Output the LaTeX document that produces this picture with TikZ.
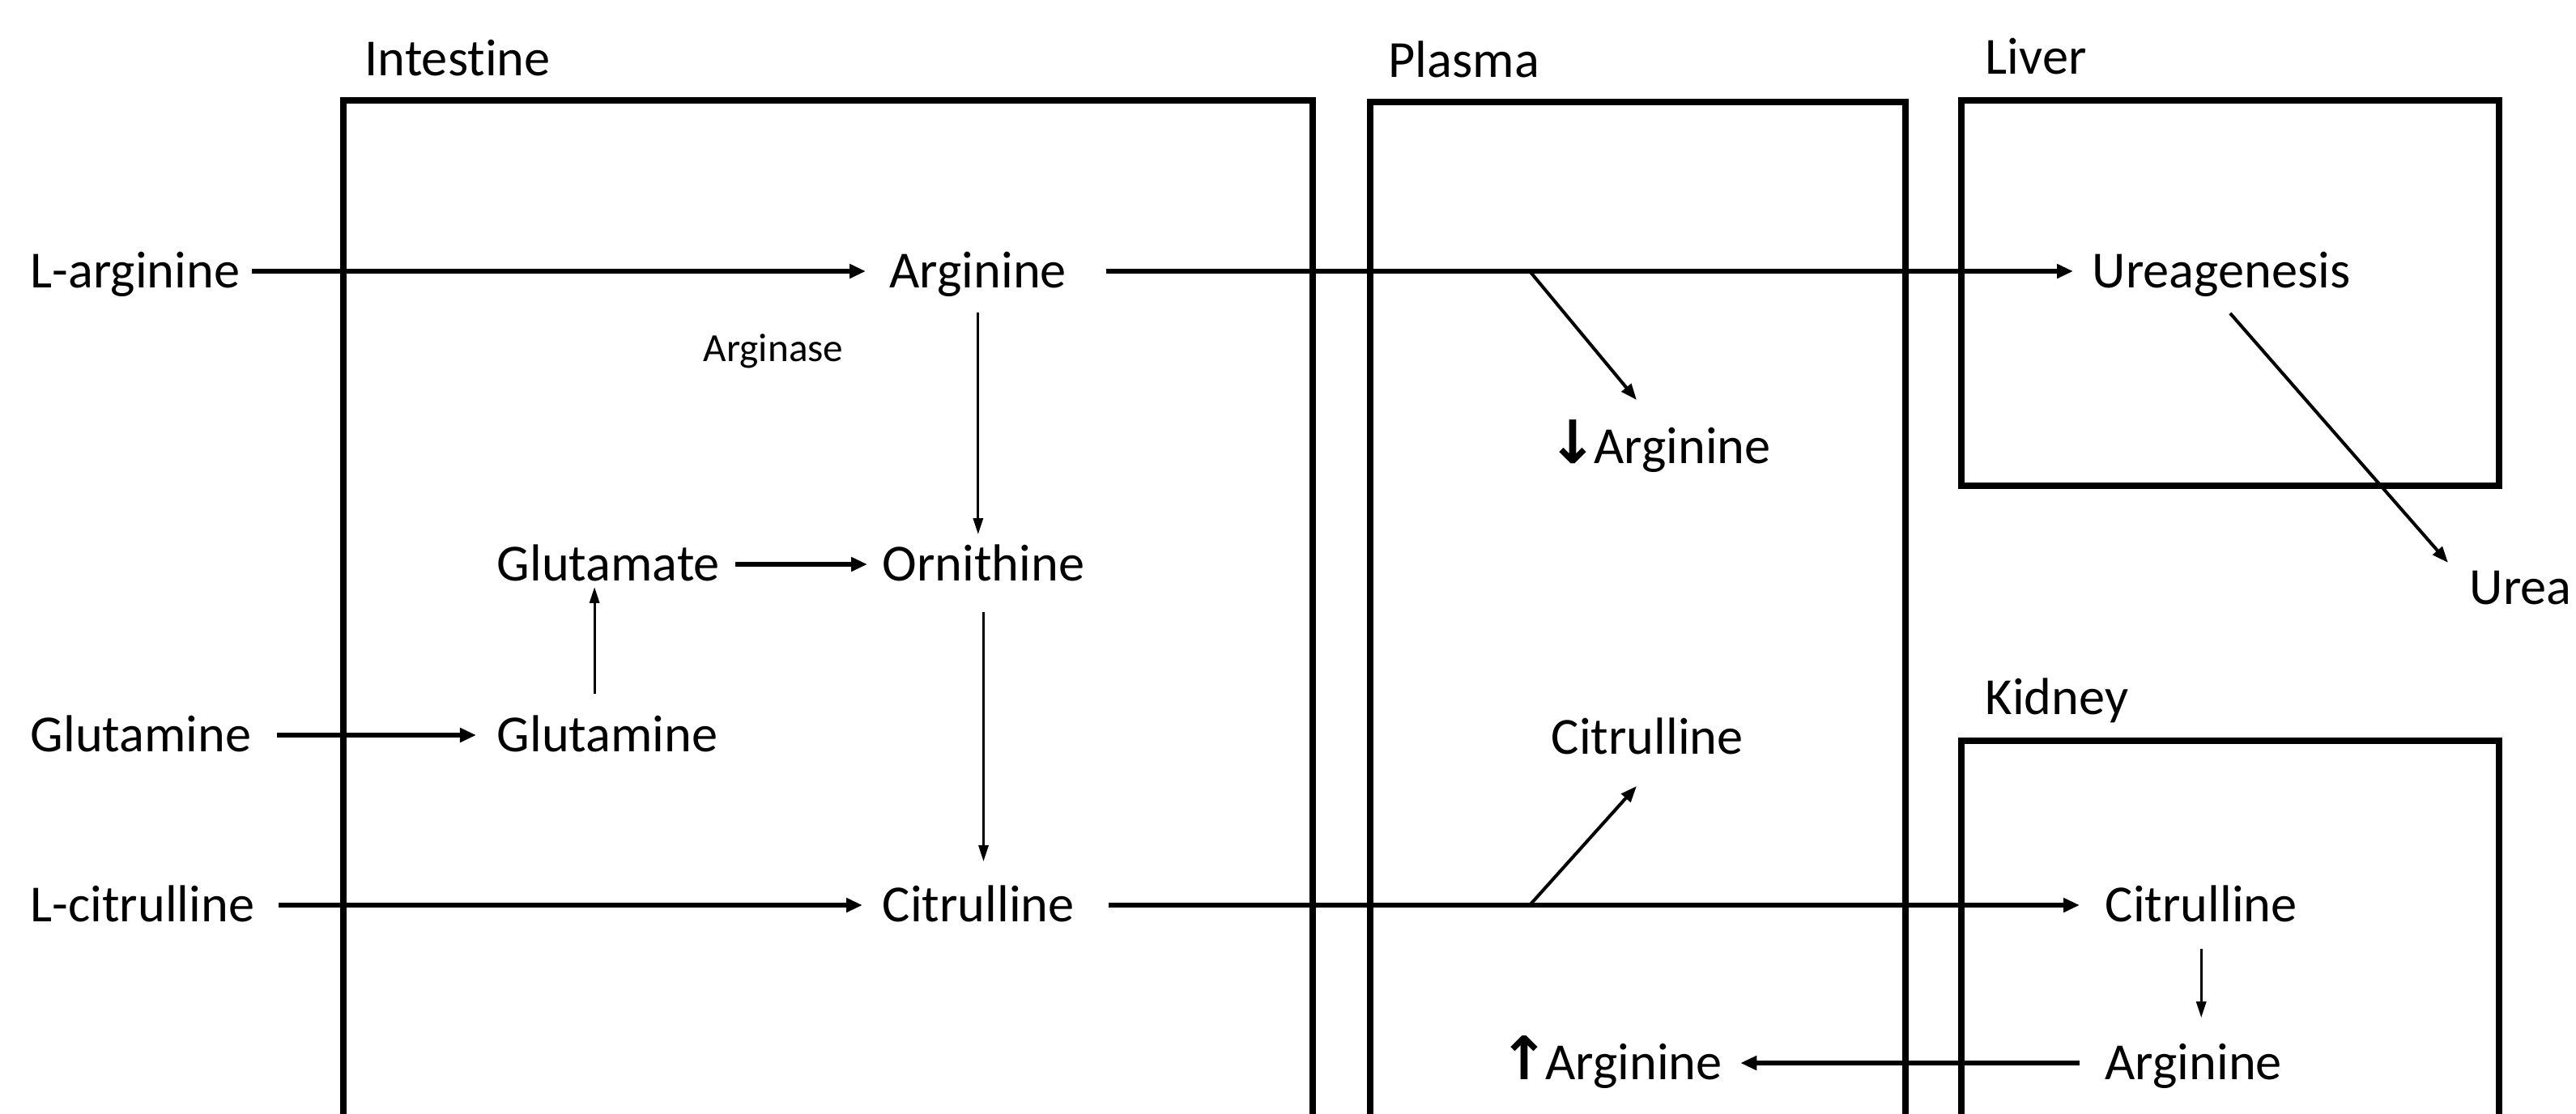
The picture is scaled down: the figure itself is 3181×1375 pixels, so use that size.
\documentclass[tikz,border=0pt]{standalone}
\usepackage{fontspec}
\setmainfont[Ligatures=NoCommon]{Carlito}
\newfontfamily\arrfont{DejaVu Sans}
\usetikzlibrary{arrows.meta}
\begin{document}
\begin{tikzpicture}[x=0.01cm,y=-0.01cm,
  lbl/.style={anchor=west,inner sep=0pt,font=\fontsize{18.3}{22}\selectfont,text height=13.7pt,text depth=1.8pt},
  small/.style={anchor=west,inner sep=0pt,font=\fontsize{14}{16}\selectfont},
  organ/.style={line width=2.3pt},
  thk/.style={line width=1.45pt,-{Triangle[length=0.2cm,width=0.17cm]}},
  med/.style={line width=1.15pt,-{Triangle[length=0.2cm,width=0.15cm]}},
  thn/.style={line width=0.9pt,-{Triangle[length=0.2cm,width=0.12cm]}}]
\useasboundingbox (0,0) rectangle (3181,1375);
\clip (0,0) rectangle (3181,1375);
\fill[white] (0,0) rectangle (3181,1375);
% organ boxes
\draw[organ] (424,1500) -- (424,124) -- (1621,124) -- (1621,1500);
\draw[organ] (1692,1500) -- (1692,126) -- (2353,126) -- (2353,1500);
\draw[organ] (2422,124) rectangle (3086,600);
\draw[organ] (2422,1500) -- (2422,915) -- (3086,915) -- (3086,1500);
% organ titles
\node[lbl] (tint) at (450,73) {Intestine};
\node[lbl] (tpla) at (1714,75) {Plasma};
\node[lbl] (tliv) at (2451,71) {Liver};
\node[lbl] (tkid) at (2451,862) {Kidney};
% metabolites
\node[lbl] (larg) at (37,335) {L-arginine};
\node[lbl] (arg) at (1098,335) {Arginine};
\node[lbl] (urgen) at (2583,335) {Ureagenesis};
\node[small] (arginase) at (868,434) {Arginase};
\node[lbl] (argdown) at (1911,552) {{\arrfont\bfseries\fontsize{21}{22}\selectfont ↓}\kern-1.5pt{}Arginine};
\node[lbl] (glu) at (613,697) {Glutamate};
\node[lbl] (orn) at (1089,697) {Ornithine};
\node[lbl] (urea) at (3049,726) {Urea};
\node[lbl] (glnout) at (37,908) {Glutamine};
\node[lbl] (glnin) at (613,908) {Glutamine};
\node[lbl] (citp) at (1915,911) {Citrulline};
\node[lbl] (lcit) at (37,1118) {L-citrulline};
\node[lbl] (cit) at (1089,1118) {Citrulline};
\node[lbl] (citk) at (2599,1118) {Citrulline};
\node[lbl] (argup) at (1851,1313) {{\arrfont\bfseries\fontsize{21}{22}\selectfont ↑}\kern-1.5pt{}Arginine};
\node[lbl] (argk) at (2599,1313) {Arginine};
\coordinate (b1) at (1889,335);
\coordinate (b2) at (1889,1118);
% connectors
\draw[thk] ([shift={(14,0)}]larg.east) -- ([shift={(-29,0)}]arg.west);
\draw[thk] ([shift={(48,0)}]arg.east) -- ([shift={(-23,0)}]urgen.west);
\draw[med] (b1) -- ([shift={(110,-30)}]argdown.north west);
\draw[thn] ([shift={(0,23)}]arg.south) -- ([shift={(0,-9)}]arg.south |- orn.north);
\draw[thk] ([shift={(18,0)}]glu.east) -- ([shift={(-18,0)}]orn.west);
\draw[thn] ([shift={(-16,-23)}]glnin.north) -- ([shift={(-16,0)}]glnin.north |- glu.south);
\draw[thk] ([shift={(31,0)}]glnout.east) -- ([shift={(-25,0)}]glnin.west);
\draw[thn] ([shift={(0,31)}]orn.south) -- ([shift={(0,-26)}]orn.south |- cit.north);
\draw[thk] ([shift={(29,0)}]lcit.east) -- ([shift={(-24,0)}]cit.west);
\draw[thk] ([shift={(42,0)}]cit.east) -- ([shift={(-31,0)}]citk.west);
\draw[med] (b2) -- ([shift={(106,32)}]citp.south west);
\draw[thn] ([shift={(0,26)}]citk.south) -- ([shift={(0,-28)}]citk.south |- argk.north);
\draw[thk] ([shift={(-31,0)}]argk.west) -- ([shift={(22,0)}]argup.east);
\draw[med] ([shift={(11,24)}]urgen.south) -- ([shift={(-26,-3)}]urea.north west);
\end{tikzpicture}
\end{document}
